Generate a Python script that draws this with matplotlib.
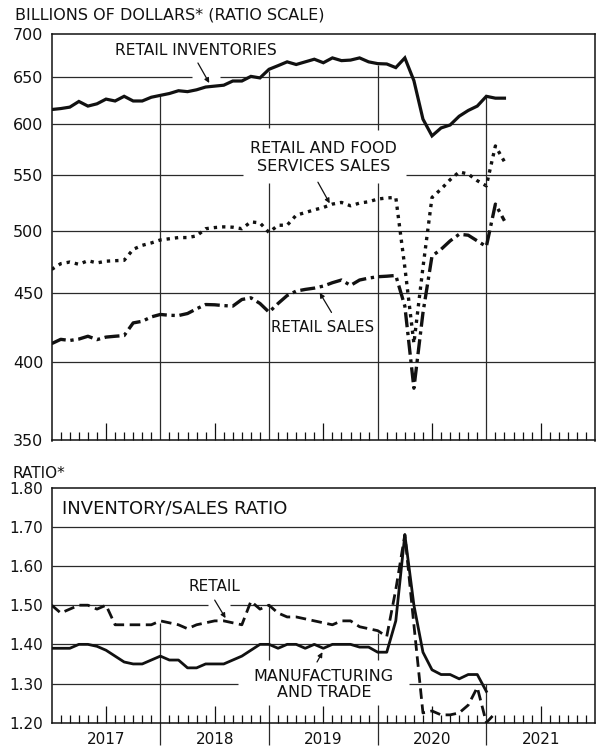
import numpy as np
import matplotlib.pyplot as plt
from matplotlib.ticker import FixedLocator, NullLocator

plt.rcParams['font.family'] = 'DejaVu Sans'

years = ['2017', '2018', '2019', '2020', '2021']

# billions of dollars, monthly
retail_inventories = [615, 616, 617.5, 623.5, 618.6, 621, 626, 624, 629, 624,
                      624, 628, 630, 632, 635, 634, 636, 639, 640, 641,
                      645.6, 645.6, 650.7, 649, 658.6, 662.7, 667, 664, 667, 670,
                      666, 671.5, 668.4, 669, 671.5, 667, 665, 664.6, 660.5, 671.5,
                      646, 605, 588, 596, 599, 608, 614, 618.6, 629, 627, 627]
retail_food_sales = [468.4, 473, 474.3, 472.5, 475.4, 473.6, 475, 475.4, 475.7, 484.7,
                     488, 490, 492.5, 493.5, 494.5, 494.5, 495.9, 502, 503, 503.6,
                     503.3, 502, 507.9, 507, 498.8, 505, 505, 513.7, 516, 518.4,
                     520.5, 523.5, 525, 522, 524.4, 525.6, 528, 529, 529.5, 470,
                     413, 470, 529.5, 537, 545.7, 553, 551, 544.8, 540, 578, 562.7]
retail_sales = [412.8, 415.8, 415, 416, 418, 415.6, 417.4, 418, 418.5, 427.6,
                428.8, 432, 433.8, 433.2, 433, 434.5, 438, 441.2, 441, 440.4,
                440, 445, 446.3, 442, 435.5, 442, 448, 451.4, 452.7, 453.7,
                455.3, 457.9, 460, 455.8, 460, 461.5, 462.6, 463, 463.6, 440,
                382.6, 435, 479.2, 484.7, 491.7, 497.3, 496.5, 491.7, 487, 523.5, 508.8]

# inventory/sales ratios
ratio_retail = [1.50, 1.48, 1.49, 1.50, 1.50, 1.49, 1.50, 1.45, 1.45, 1.45,
                1.45, 1.45, 1.46, 1.455, 1.45, 1.44, 1.45, 1.455, 1.46, 1.46,
                1.455, 1.45, 1.51, 1.49, 1.50, 1.48, 1.47, 1.47, 1.465, 1.46,
                1.455, 1.45, 1.46, 1.46, 1.445, 1.44, 1.435, 1.42, 1.54, 1.68,
                1.45, 1.225, 1.23, 1.22, 1.22, 1.225, 1.245, 1.29, 1.20, 1.225]
ratio_mfg_trade = [1.39, 1.39, 1.39, 1.40, 1.40, 1.395, 1.385, 1.37, 1.355, 1.35,
                   1.35, 1.36, 1.37, 1.36, 1.36, 1.34, 1.34, 1.35, 1.35, 1.35,
                   1.36, 1.37, 1.385, 1.40, 1.40, 1.39, 1.40, 1.40, 1.39, 1.40,
                   1.39, 1.40, 1.40, 1.40, 1.393, 1.393, 1.38, 1.38, 1.46, 1.68,
                   1.50, 1.38, 1.335, 1.323, 1.323, 1.312, 1.323, 1.323, 1.28]

W, H = 597, 749
fig = plt.figure(figsize=(W / 100, H / 100), dpi=100)
ax1 = fig.add_axes([51.7 / W, 1 - 440.5 / H, 543.3 / W, 407 / H])
ax2 = fig.add_axes([51.7 / W, 1 - 722.7 / H, 543.3 / W, 235 / H])

GRID = '#2a2a2a'
INK = '#111111'


def style_axis(ax):
    ax.set_xlim(0, 60)
    for s in ax.spines.values():
        s.set_linewidth(1.1)
        s.set_color(INK)
    ax.xaxis.set_major_locator(FixedLocator([6, 18, 30, 42, 54]))
    ax.xaxis.set_minor_locator(FixedLocator([m for m in range(1, 60) if m % 6 != 0]))
    ax.tick_params(axis='x', which='major', direction='in', length=12, width=0.9,
                   color=INK, labelbottom=False)
    ax.tick_params(axis='x', which='minor', direction='in', length=6, width=0.9,
                   color=INK)
    ax.tick_params(axis='y', which='both', length=0, pad=6, labelsize=11.5,
                   labelcolor=INK)


# ---- top panel: dollars, ratio scale
ax1.set_yscale('log')
ax1.set_ylim(350, 700)
ax1.yaxis.set_major_locator(FixedLocator([350, 400, 450, 500, 550, 600, 650, 700]))
ax1.yaxis.set_minor_locator(NullLocator())
ax1.set_yticklabels(['350', '400', '450', '500', '550', '600', '650', '700'])
style_axis(ax1)

top_grid = {400: [(0, 60)], 450: [(0, 60)], 500: [(0, 60)],
            550: [(0, 21.1), (39.1, 60)], 600: [(0, 60)],
            650: [(0, 15.5), (18.6, 60)]}
for yv, segs in top_grid.items():
    for a, b in segs:
        ax1.hlines(yv, a, b, color=GRID, lw=0.9, zorder=1)

top_years = {12: [(350, 629)], 24: [(350, 542.5), (596, 657)],
             36: [(350, 542.5), (594, 663)], 48: [(350, 629)]}
for xm, segs in top_years.items():
    for a, b in segs:
        ax1.vlines(xm, a, b, color=GRID, lw=0.9, zorder=1)

ax1.plot(np.arange(len(retail_inventories)), retail_inventories, color=INK,
         lw=2.3, solid_joinstyle='miter', zorder=3)
ax1.plot(np.arange(len(retail_food_sales)), retail_food_sales, color=INK,
         lw=2.4, linestyle=(0, (1, 1.5)), dash_capstyle='butt', zorder=3)
ax1.plot(np.arange(len(retail_sales)), retail_sales, color=INK,
         lw=2.4, linestyle=(0, (4.5, 1.4, 1, 1.4)), dash_capstyle='butt', zorder=3)

arrow = dict(arrowstyle='-|>', color=INK, lw=0.9, mutation_scale=7,
             shrinkA=0, shrinkB=0)
ax1.text(15.95, 680.6, 'RETAIL INVENTORIES', ha='center', va='center',
         fontsize=11.2, color=INK)
ax1.annotate('', xy=(17.4, 643.4), xytext=(16.15, 665.7), arrowprops=arrow)
ax1.text(30.05, 566.8, 'RETAIL AND FOOD\nSERVICES SALES', ha='center', va='center',
         fontsize=11.5, color=INK, linespacing=1.22)
ax1.annotate('', xy=(30.7, 524.2), xytext=(29.4, 543.4), arrowprops=arrow)
ax1.text(29.95, 424.6, 'RETAIL SALES', ha='center', va='center',
         fontsize=10.8, color=INK)
ax1.annotate('', xy=(29.6, 450.1), xytext=(30.9, 435.3), arrowprops=arrow)

# ---- bottom panel: inventory/sales ratio
ax2.set_ylim(1.2, 1.8)
ax2.yaxis.set_major_locator(FixedLocator([1.2, 1.3, 1.4, 1.5, 1.6, 1.7, 1.8]))
ax2.set_yticklabels(['1.20', '1.30', '1.40', '1.50', '1.60', '1.70', '1.80'])
style_axis(ax2)
ax2.tick_params(axis='y', labelsize=11)

bot_grid = {1.30: [(0, 20.6), (39.5, 60)], 1.40: [(0, 60)],
            1.50: [(0, 17.3), (19.7, 60)], 1.60: [(0, 60)], 1.70: [(0, 60)]}
for yv, segs in bot_grid.items():
    for a, b in segs:
        ax2.hlines(yv, a, b, color=GRID, lw=0.9, zorder=1)

bot_years = {12: [(1.144, 1.455)], 24: [(1.144, 1.245), (1.36, 1.50)],
             36: [(1.144, 1.245), (1.36, 1.429)], 48: [(1.144, 1.30)]}
for xm, segs in bot_years.items():
    for a, b in segs:
        ax2.vlines(xm, a, b, color=GRID, lw=0.9, zorder=1, clip_on=False)

ax2.plot(np.arange(len(ratio_mfg_trade)), ratio_mfg_trade, color=INK,
         lw=2.0, zorder=3)
ax2.plot(np.arange(len(ratio_retail)), ratio_retail, color=INK,
         lw=2.0, linestyle=(0, (3.8, 2.0)), dash_capstyle='butt', zorder=3)

ax2.text(1.14, 1.748, 'INVENTORY/SALES RATIO', ha='left', va='center',
         fontsize=13, color=INK)
ax2.text(18.0, 1.5465, 'RETAIL', ha='center', va='center', fontsize=11, color=INK)
ax2.annotate('', xy=(19.2, 1.467), xytext=(18.0, 1.513), arrowprops=arrow)
ax2.text(30.05, 1.2976, 'MANUFACTURING\nAND TRADE', ha='center', va='center',
         fontsize=11.5, color=INK, linespacing=1.08)
ax2.annotate('', xy=(29.9, 1.380), xytext=(29.3, 1.355), arrowprops=arrow)

for i, yr in enumerate(years):
    ax2.text(6 + 12 * i, 1.2 - 17.3 / 391.7, yr, ha='center', va='center',
             fontsize=11, color=INK, clip_on=False)

fig.text(15 / W, 1 - 15 / H, 'BILLIONS OF DOLLARS* (RATIO SCALE)', ha='left',
         va='center', fontsize=11.5, color=INK)
fig.text(12 / W, 1 - 473 / H, 'RATIO*', ha='left', va='center',
         fontsize=11, color=INK)

fig.savefig('out.png', dpi=100, facecolor='white')
